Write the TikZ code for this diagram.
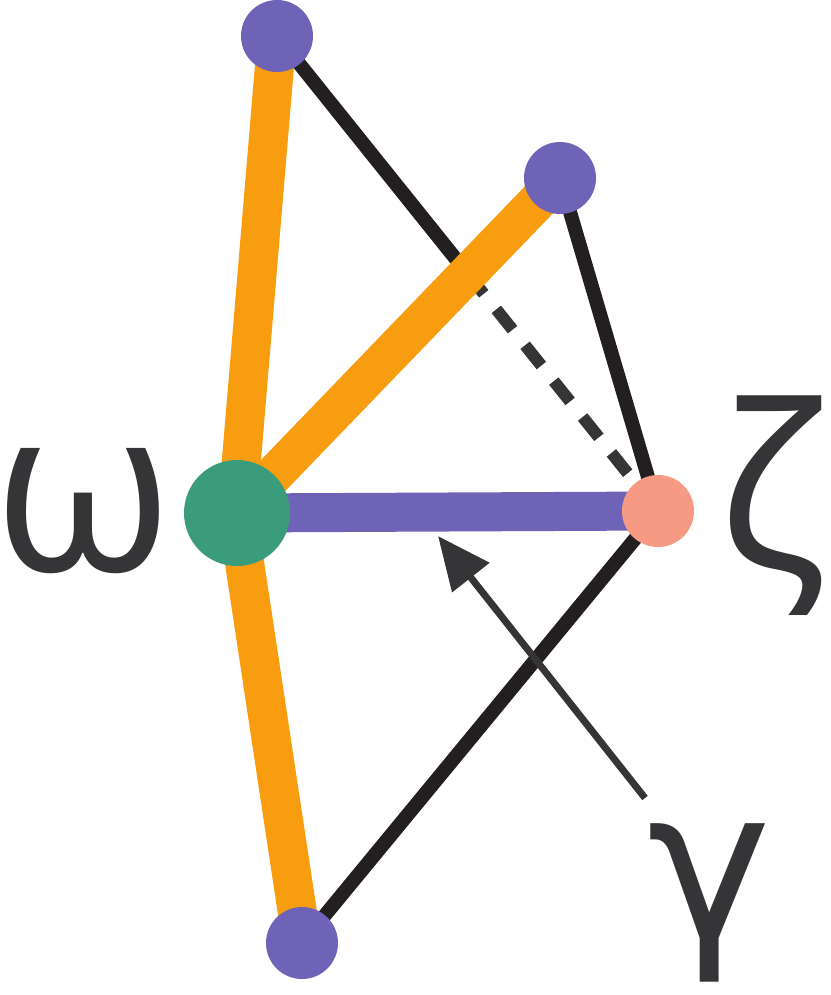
\documentclass[tikz,border=0pt]{standalone}
\usepackage{fontspec}
\setmainfont{Open Sans}
\newfontfamily\gammafont{DejaVu Sans}
\usetikzlibrary{arrows.meta,backgrounds,calc}

\definecolor{vpurple}{HTML}{6F63B7}
\definecolor{vgreen}{HTML}{3A9C7B}
\definecolor{vsalmon}{HTML}{F79A84}
\definecolor{eorange}{HTML}{F99D10}
\definecolor{eblack}{HTML}{231F20}
\definecolor{egray}{HTML}{353537}

\tikzset{
    vertex/.style={circle,inner sep=0pt,minimum size=36pt},
    greeklab/.style={inner sep=0pt,text=egray,font=\fontsize{115pt}{120pt}\selectfont},
    thinedge/.style={draw=eblack,line width=7pt},
    dashedge/.style={draw=egray,line width=6pt,dash pattern=on 13pt off 10pt},
    thickedge/.style={line width=19.5pt},
    pointer/.style={draw=egray,line width=3.5pt,-{Triangle[length=26.5pt,width=23pt]}}
}

\begin{document}
\begin{tikzpicture}[x=0.5pt,y=-0.5pt]
    \useasboundingbox (0,0) rectangle (830,995);
    % Draw the vertices
    \node[vertex,fill=vpurple] (top) at (277,36) {};
    \node[vertex,fill=vpurple] (mid) at (560,178) {};
    \node[vertex,fill=vpurple] (bot) at (302,943) {};
    \node[vertex,fill=vgreen,minimum size=53pt] (omega) at (237,513) {};
    \node[vertex,fill=vsalmon] (zeta) at (658,511) {};
    % Draw the labels
    \node[greeklab] (omegalab) at (83,511) {ω};
    \node[greeklab] (zetalab) at (773,506) {ζ};
    \node[greeklab,font=\gammafont\fontsize{105pt}{110pt}\selectfont] (gammalab) at (710,903) {γ};
    % Edges go behind the vertices
    \begin{scope}[on background layer]
    \coordinate (cross) at ($(top)!0.5!(zeta)$);
    \draw[thinedge] (top.center) -- (cross);
    \draw[dashedge] (cross) -- (zeta.center);
    \draw[thinedge] (mid.center) -- (zeta.center);
    \draw[thinedge] (zeta.center) -- (bot.center);
    \draw[thickedge,eorange] (top.center) -- (omega.center);
    \draw[thickedge,eorange] (omega.center) -- (mid.center);
    \draw[thickedge,eorange] (omega.center) -- (bot.center);
    \draw[thickedge,vpurple] (omega.center) -- (zeta.center);
    \end{scope}
    % Arrow from gamma up to the purple edge
    \coordinate (gtail) at (645,798);
    \coordinate (gtip) at (438,536);
    \draw[pointer] (gtail) -- (gtip);
\end{tikzpicture}
\end{document}
